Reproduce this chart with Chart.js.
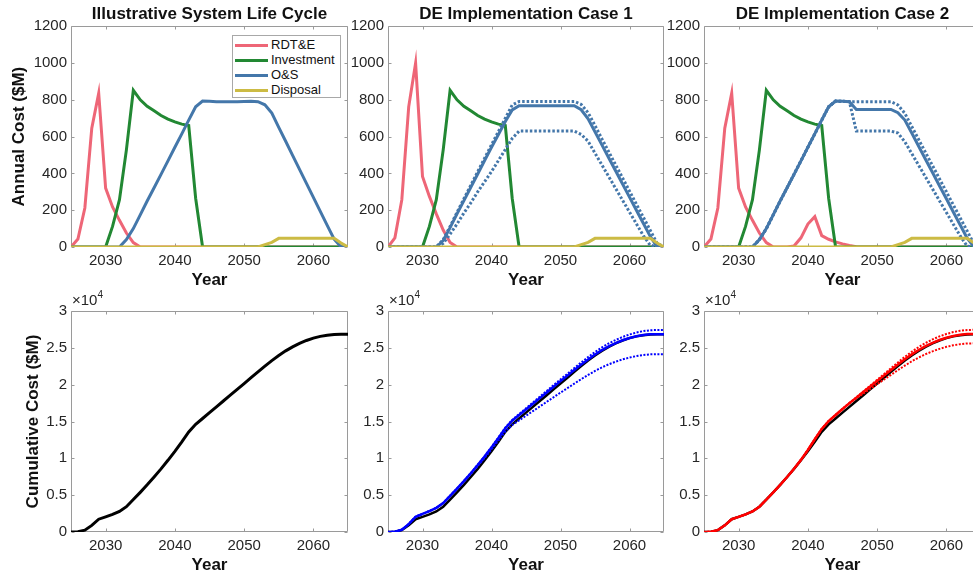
<!DOCTYPE html>
<html>
<head>
<meta charset="utf-8">
<script src="https://cdn.jsdelivr.net/npm/chart.js@4.4.1/dist/chart.umd.min.js"></script>
<style>
    html, body { margin: 0; padding: 0; background: #fff; }
    body { position: relative; width: 973px; height: 575px; overflow: hidden; font-family: "Liberation Sans", Arial, sans-serif; }
    canvas { position: absolute; }
    #legend { position: absolute; left: 232px; top: 35px; width: 107px; height: 60px; padding-top: 1px; border: 1px solid #a8a8a8; background: #fff; }
    .legendRow { height: 15px; line-height: 15px; font-size: 13px; color: #111; white-space: nowrap; }
    .legendLine { display: inline-block; width: 33px; height: 3px; margin: 0 3px 0 2px; vertical-align: middle; }
</style>
</head>
<body>
<canvas id="annualBase" width="352" height="291" style="left:0px;top:0px"></canvas>
<canvas id="annualCase1" width="324" height="291" style="left:344px;top:0px"></canvas>
<canvas id="annualCase2" width="325" height="291" style="left:660px;top:0px"></canvas>
<canvas id="cumBase" width="352" height="286" style="left:0px;top:290px"></canvas>
<canvas id="cumCase1" width="324" height="286" style="left:344px;top:290px"></canvas>
<canvas id="cumCase2" width="325" height="286" style="left:660px;top:290px"></canvas>
<div id="legend"></div>
<script>
// years on the x axis
var years = [2025, 2026, 2027, 2028, 2029, 2030, 2031, 2032, 2033, 2034,
    2035, 2036, 2037, 2038, 2039, 2040, 2041, 2042, 2043, 2044,
    2045, 2046, 2047, 2048, 2049, 2050, 2051, 2052, 2053, 2054,
    2055, 2056, 2057, 2058, 2059, 2060, 2061, 2062, 2063, 2064,
    2065];
var xTicks = [2030, 2040, 2050, 2060];
var annualTicks = [0, 200, 400, 600, 800, 1000, 1200];
var cumulativeTicks = [0, 5000, 10000, 15000, 20000, 25000, 30000];
var seriesNames = ['RDT&E', 'Investment', 'O&S', 'Disposal'];
var panelTitles = ['Illustrative System Life Cycle', 'DE Implementation Case 1', 'DE Implementation Case 2'];

// annual cost ($M), baseline
var rdteBase = [0, 43, 212, 646, 836, 320, 218, 145, 76, 24,
    0, 0, 0, 0, 0, 0, 0, 0, 0, 0,
    0, 0, 0, 0, 0, 0, 0, 0, 0, 0,
    0, 0, 0, 0, 0, 0, 0, 0, 0, 0,
    0];
var investment = [0, 0, 0, 0, 0, 0, 112, 257, 528, 852,
    800, 765, 740, 715, 695, 680, 668, 660, 265, 0,
    0, 0, 0, 0, 0, 0, 0, 0, 0, 0,
    0, 0, 0, 0, 0, 0, 0, 0, 0, 0,
    0];
var osBase = [0, 0, 0, 0, 0, 0, 0, 0, 40, 100,
    175, 250, 322, 395, 468, 542, 615, 690, 762, 793,
    792, 790, 789, 789, 790, 791, 792, 790, 773, 728,
    650, 575, 498, 422, 346, 270, 194, 118, 42, 0,
    0];
var disposal = [0, 0, 0, 0, 0, 0, 0, 0, 0, 0,
    0, 0, 0, 0, 0, 0, 0, 0, 0, 0,
    0, 0, 0, 0, 0, 0, 0, 0, 13, 25,
    47, 47, 47, 47, 47, 47, 47, 47, 47, 22,
    0];

// annual cost ($M), case 1
var rdteCase1 = [0, 50, 256, 762, 1000, 383, 275, 180, 92, 25,
    0, 0, 0, 0, 0, 0, 0, 0, 0, 0,
    0, 0, 0, 0, 0, 0, 0, 0, 0, 0,
    0, 0, 0, 0, 0, 0, 0, 0, 0, 0,
    0];
var osCase1 = [0, 0, 0, 0, 0, 0, 0, 0, 35, 105,
    180, 252, 325, 397, 470, 542, 612, 682, 745, 768,
    768, 768, 768, 768, 768, 768, 768, 768, 746, 697,
    626, 555, 484, 413, 342, 271, 200, 129, 58, 0,
    0];
var osCase1High = [0, 0, 0, 0, 0, 0, 0, 0, 40, 112,
    188, 262, 336, 410, 483, 556, 628, 700, 772, 791,
    791, 791, 791, 791, 791, 791, 791, 791, 775, 730,
    660, 588, 517, 446, 375, 304, 233, 162, 91, 20,
    0];
var osCase1Low = [0, 0, 0, 0, 0, 0, 0, 0, 20, 70,
    125, 185, 240, 300, 355, 410, 470, 530, 590, 630,
    630, 630, 630, 630, 630, 630, 630, 630, 612, 575,
    510, 446, 382, 318, 254, 190, 126, 62, 10, 0,
    0];

// annual cost ($M), case 2
var rdteCase2 = [0, 43, 212, 646, 836, 320, 218, 145, 76, 24,
    0, 0, 0, 5, 50, 125, 165, 62, 42, 28,
    17, 8, 2, 0, 0, 0, 0, 0, 0, 0,
    0, 0, 0, 0, 0, 0, 0, 0, 0, 0,
    0];
var osCase2 = [0, 0, 0, 0, 0, 0, 0, 0, 40, 100,
    175, 250, 322, 395, 468, 542, 615, 690, 762, 793,
    792, 790, 748, 748, 748, 748, 748, 748, 730, 690,
    620, 548, 476, 405, 333, 262, 190, 120, 48, 0,
    0];
var osCase2High = [0, 0, 0, 0, 0, 0, 0, 0, 40, 100,
    175, 250, 322, 395, 468, 542, 615, 690, 762, 793,
    792, 790, 790, 790, 790, 790, 790, 790, 772, 727,
    655, 584, 513, 442, 371, 300, 229, 158, 87, 16,
    0];
var osCase2Low = [0, 0, 0, 0, 0, 0, 0, 0, 40, 100,
    175, 250, 322, 395, 468, 542, 615, 690, 762, 793,
    792, 790, 630, 630, 630, 630, 630, 630, 620, 572,
    508, 444, 380, 316, 252, 188, 124, 60, 5, 0,
    0];

// cumulative cost ($M)
var cumBase = [0, 43, 255, 901, 1737, 2057, 2387, 2789, 3433, 4409,
    5384, 6399, 7461, 8571, 9734, 10956, 12239, 13589, 14616, 15409,
    16201, 16991, 17780, 18569, 19359, 20150, 20942, 21732, 22518, 23271,
    23968, 24590, 25135, 25604, 25997, 26314, 26555, 26720, 26809, 26831,
    26831];
var cumCase1 = [0, 50, 306, 1068, 2068, 2451, 2838, 3275, 3930, 4912,
    5892, 6909, 7974, 9086, 10251, 11473, 12753, 14095, 15105, 15873,
    16641, 17409, 18177, 18945, 19713, 20481, 21230, 21980, 22720, 23430,
    24090, 24680, 25200, 25650, 26030, 26340, 26580, 26750, 26840, 26860,
    26860];
var cumCase1High = [0, 50, 306, 1068, 2068, 2451, 2838, 3275, 3934, 4921,
    5907, 6932, 8005, 9127, 10302, 11535, 12827, 14183, 15214, 16000,
    16786, 17572, 18358, 19144, 19930, 20716, 21483, 22251, 23013, 23748,
    24434, 25050, 25595, 26070, 26476, 26811, 27077, 27272, 27387, 27422,
    27422];
var cumCase1Low = [0, 50, 306, 1068, 2068, 2451, 2838, 3275, 3930, 4902,
    5862, 6849, 7874, 8936, 10041, 11193, 12393, 13645, 14525, 15153,
    15781, 16409, 17037, 17665, 18293, 18921, 19530, 20140, 20745, 21325,
    21865, 22345, 22765, 23125, 23430, 23680, 23880, 24030, 24115, 24135,
    24135];
var cumCase2 = [0, 43, 255, 901, 1737, 2057, 2387, 2789, 3433, 4409,
    5384, 6399, 7461, 8576, 9789, 11136, 12584, 13996, 15065, 15886,
    16695, 17493, 18243, 18991, 19739, 20487, 21235, 21983, 22726, 23441,
    24108, 24703, 25226, 25678, 26058, 26367, 26604, 26771, 26866, 26888,
    26888];
var cumCase2High = [0, 43, 255, 901, 1737, 2057, 2387, 2789, 3433, 4409,
    5384, 6399, 7461, 8576, 9789, 11136, 12584, 13996, 15065, 15886,
    16695, 17493, 18283, 19073, 19863, 20653, 21443, 22233, 23016, 23771,
    24473, 25103, 25659, 26143, 26551, 26884, 27139, 27319, 27421, 27446,
    27446];
var cumCase2Low = [0, 43, 255, 901, 1737, 2057, 2387, 2789, 3433, 4409,
    5384, 6399, 7461, 8576, 9789, 11136, 12584, 13996, 15065, 15886,
    16695, 17493, 18143, 18781, 19419, 20057, 20695, 21333, 21976, 22591,
    23168, 23683, 24136, 24528, 24863, 25137, 25349, 25501, 25591, 25613,
    25613];

var RDTE_COLOR = '#EE6677';
var INV_COLOR = '#228833';
var OS_COLOR = '#4477AA';
var DISP_COLOR = '#CCBB44';
var AXIS_COLOR = '#9a9a9a';
var TEXT_COLOR = '#262626';
var FONT = '"Liberation Sans", Arial, sans-serif';

Chart.defaults.font.family = FONT;
Chart.defaults.color = TEXT_COLOR;

function points(values) {
    return years.map(function (yr, i) {
        return { x: yr, y: values[i] };
    });
}

function lineSet(label, values, color, width, dash) {
    return {
        label: label,
        data: points(values),
        borderColor: color,
        backgroundColor: color,
        borderWidth: width,
        borderDash: dash || [],
        borderCapStyle: 'butt',
        pointRadius: 0,
        tension: 0,
        fill: false
    };
}

// later datasets are drawn on top, like the original plot order
function stackOrder(sets) {
    sets.forEach(function (s, i) {
        s.order = sets.length - i;
    });
    return sets;
}

// box around the axes with small inward ticks
var boxPlugin = {
    id: 'matlabBox',
    beforeDatasetsDraw: function (chart) {
        var a = chart.chartArea, ctx = chart.ctx;
        var xs = chart.scales.x, ys = chart.scales.y;
        var l = Math.round(a.left) + 0.5, r = Math.round(a.right) - 0.5;
        var t = Math.round(a.top) + 0.5, b = Math.round(a.bottom) - 0.5;
        ctx.save();
        ctx.strokeStyle = AXIS_COLOR;
        ctx.lineWidth = 1;
        ctx.beginPath();
        ctx.rect(l, t, r - l, b - t);
        xs.ticks.forEach(function (tk) {
            var px = Math.round(xs.getPixelForValue(tk.value)) + 0.5;
            ctx.moveTo(px, b); ctx.lineTo(px, b - 3);
            ctx.moveTo(px, t); ctx.lineTo(px, t + 3);
        });
        ys.ticks.forEach(function (tk) {
            var py = Math.round(ys.getPixelForValue(tk.value)) + 0.5;
            ctx.moveTo(l, py); ctx.lineTo(l + 3, py);
            ctx.moveTo(r, py); ctx.lineTo(r - 3, py);
        });
        ctx.stroke();
        ctx.restore();
    }
};

// the "x10^4" multiplier above the cumulative axes
var exponentPlugin = {
    id: 'exponentLabel',
    afterDraw: function (chart) {
        var a = chart.chartArea, ctx = chart.ctx;
        ctx.save();
        ctx.fillStyle = TEXT_COLOR;
        ctx.textBaseline = 'alphabetic';
        ctx.textAlign = 'left';
        ctx.font = '15px ' + FONT;
        ctx.fillText('\u00d710', a.left + 1, a.top - 6);
        var w = ctx.measureText('\u00d710').width;
        ctx.font = '10px ' + FONT;
        ctx.fillText('4', a.left + 1 + w, a.top - 13);
        ctx.restore();
    }
};

function buildChart(canvasId, datasets, opts) {
    var titleFont = { size: 17, weight: 'bold', lineHeight: 1.25 };
    return new Chart(document.getElementById(canvasId), {
        type: 'line',
        data: { datasets: datasets },
        options: {
            responsive: false,
            animation: false,
            events: [],
            layout: { padding: { top: opts.padTop, right: 4, bottom: 0, left: 0 } },
            plugins: {
                legend: { display: false },
                tooltip: { enabled: false },
                title: {
                    display: !!opts.title,
                    text: opts.title || '',
                    fullSize: false,
                    color: '#111',
                    font: titleFont,
                    padding: { top: 0, bottom: 1 }
                }
            },
            scales: {
                x: {
                    type: 'linear',
                    min: 2025,
                    max: 2065,
                    border: { display: false },
                    grid: { display: false, drawTicks: false },
                    afterBuildTicks: function (scale) {
                        scale.ticks = xTicks.map(function (v) { return { value: v }; });
                    },
                    afterFit: function (scale) { scale.height = 44; },
                    ticks: {
                        color: TEXT_COLOR,
                        font: { size: 15 },
                        padding: 4.5,
                        maxRotation: 0,
                        autoSkip: false,
                        callback: function (v) { return String(v); }
                    },
                    title: {
                        display: true,
                        text: 'Year',
                        color: '#111',
                        font: titleFont,
                        padding: { top: 0, bottom: 0 }
                    }
                },
                y: {
                    type: 'linear',
                    min: opts.yTicks[0],
                    max: opts.yTicks[opts.yTicks.length - 1],
                    border: { display: false },
                    grid: { display: false, drawTicks: false },
                    afterBuildTicks: function (scale) {
                        scale.ticks = opts.yTicks.map(function (v) { return { value: v }; });
                    },
                    afterFit: function (scale) { scale.width = opts.yWidth; },
                    ticks: {
                        color: TEXT_COLOR,
                        font: { size: 15 },
                        padding: 4,
                        autoSkip: false,
                        callback: opts.yLabel
                    },
                    title: {
                        display: !!opts.yTitle,
                        text: opts.yTitle || '',
                        color: '#111',
                        font: titleFont,
                        padding: { top: opts.yTitlePad || 0, bottom: 0 }
                    }
                }
            }
        },
        plugins: opts.exponent ? [boxPlugin, exponentPlugin] : [boxPlugin]
    });
}

function annualLabel(v) { return String(v); }
function cumulativeLabel(v) { return String(v / 10000); }

function renderLegend() {
    var colors = [RDTE_COLOR, INV_COLOR, OS_COLOR, DISP_COLOR];
    var box = document.getElementById('legend');
    seriesNames.forEach(function (name, i) {
        var row = document.createElement('div');
        row.className = 'legendRow';
        var line = document.createElement('span');
        line.className = 'legendLine';
        line.style.background = colors[i];
        row.appendChild(line);
        row.appendChild(document.createTextNode(name));
        box.appendChild(row);
    });
}

var DOT_TOP = [2.5, 2];
var DOT_BOTTOM = [2, 1.5];

buildChart('annualBase', stackOrder([
    lineSet(seriesNames[0], rdteBase, RDTE_COLOR, 3),
    lineSet(seriesNames[1], investment, INV_COLOR, 3),
    lineSet(seriesNames[2], osBase, OS_COLOR, 3),
    lineSet(seriesNames[3], disposal, DISP_COLOR, 3)
]), { title: panelTitles[0], padTop: 4, yTicks: annualTicks, yWidth: 71, yLabel: annualLabel,
      yTitle: 'Annual Cost ($M)', yTitlePad: 8.7 });

buildChart('annualCase1', stackOrder([
    lineSet(seriesNames[0], rdteCase1, RDTE_COLOR, 3),
    lineSet(seriesNames[1], investment, INV_COLOR, 3),
    lineSet('O&S high', osCase1High, OS_COLOR, 3, DOT_TOP),
    lineSet('O&S low', osCase1Low, OS_COLOR, 3, DOT_TOP),
    lineSet(seriesNames[2], osCase1, OS_COLOR, 3),
    lineSet(seriesNames[3], disposal, DISP_COLOR, 3)
]), { title: panelTitles[1], padTop: 4, yTicks: annualTicks, yWidth: 44, yLabel: annualLabel });

buildChart('annualCase2', stackOrder([
    lineSet(seriesNames[0], rdteCase2, RDTE_COLOR, 3),
    lineSet(seriesNames[1], investment, INV_COLOR, 3),
    lineSet('O&S high', osCase2High, OS_COLOR, 3, DOT_TOP),
    lineSet('O&S low', osCase2Low, OS_COLOR, 3, DOT_TOP),
    lineSet(seriesNames[2], osCase2, OS_COLOR, 3),
    lineSet(seriesNames[3], disposal, DISP_COLOR, 3)
]), { title: panelTitles[2], padTop: 4, yTicks: annualTicks, yWidth: 44, yLabel: annualLabel });

buildChart('cumBase', stackOrder([
    lineSet('Baseline', cumBase, '#000000', 3)
]), { padTop: 21, yTicks: cumulativeTicks, yWidth: 71, yLabel: cumulativeLabel,
      yTitle: 'Cumulative Cost ($M)', yTitlePad: 22.4, exponent: true });

buildChart('cumCase1', stackOrder([
    lineSet('Baseline', cumBase, '#000000', 2.5),
    lineSet('Case 1 high', cumCase1High, '#0000FF', 2, DOT_BOTTOM),
    lineSet('Case 1 low', cumCase1Low, '#0000FF', 2, DOT_BOTTOM),
    lineSet('Case 1', cumCase1, '#0000FF', 2.5)
]), { padTop: 21, yTicks: cumulativeTicks, yWidth: 44, yLabel: cumulativeLabel, exponent: true });

buildChart('cumCase2', stackOrder([
    lineSet('Baseline', cumBase, '#000000', 2.5),
    lineSet('Case 2 high', cumCase2High, '#FF0000', 2, DOT_BOTTOM),
    lineSet('Case 2 low', cumCase2Low, '#FF0000', 2, DOT_BOTTOM),
    lineSet('Case 2', cumCase2, '#FF0000', 2.5)
]), { padTop: 21, yTicks: cumulativeTicks, yWidth: 44, yLabel: cumulativeLabel, exponent: true });

renderLegend();
</script>
</body>
</html>
